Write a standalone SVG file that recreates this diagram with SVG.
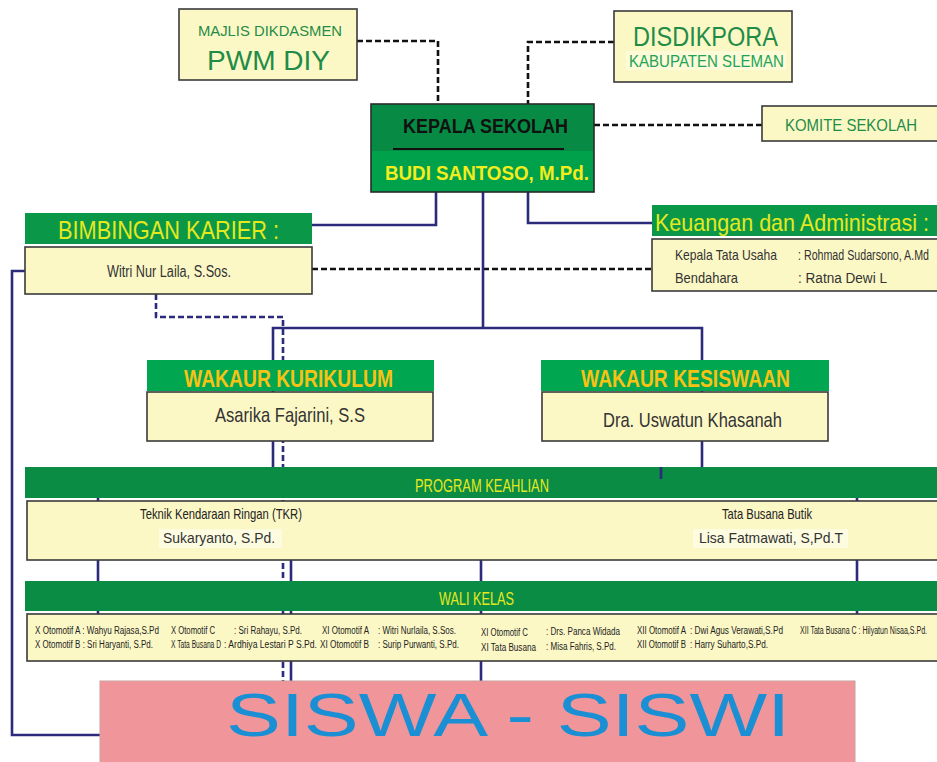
<svg xmlns="http://www.w3.org/2000/svg" width="937" height="762" viewBox="0 0 937 762">
<style>
text{font-family:"Liberation Sans",Arial,sans-serif}
.pale{fill:#fcf8c6;stroke:#3a3a3a;stroke-width:1.6}
.hdr{fill:#0a9848}
.hdr2{fill:#0a8c45}
.hdrw{fill:#00a650}
.ln{fill:none;stroke:#2c2a7a;stroke-width:2.6}
.dsh{fill:none;stroke:#111;stroke-width:2.6;stroke-dasharray:6 3}
.dshb{fill:none;stroke:#2c2a7a;stroke-width:2.6;stroke-dasharray:6 3}
.g{fill:#1f8c47}
.y{fill:#e6e81e}
.dk{fill:#333}
.wk{fill:#222;font-size:10px}
</style>
<rect width="937" height="762" fill="#fff"/>
<g id="connectors">
<polyline class="dsh" points="357,41 438,41 438,104"/>
<polyline class="dsh" points="614,42 528,42 528,104"/>
<line class="dsh" x1="594" y1="125" x2="762" y2="125"/>
<line class="dsh" x1="312" y1="269" x2="652" y2="269"/>
<polyline class="ln" points="436,192 436,225 312,225"/>
<polyline class="ln" points="528,192 528,223 652,223"/>
<line class="ln" x1="483" y1="192" x2="483" y2="328"/>
<polyline class="ln" points="273,467 273,328 702,328 702,467"/>
<polyline class="ln" points="25,271 12,271 12,735 100,735"/>
<polyline class="dshb" points="156,294 156,317 283,317 283,681"/>
<line class="ln" x1="98" y1="467" x2="98" y2="614"/>
<line class="ln" x1="291" y1="560" x2="291" y2="681"/>
<line class="ln" x1="481" y1="560" x2="481" y2="681"/>
<line class="ln" x1="857" y1="498" x2="857" y2="614"/>
</g>
<g id="majlis">
<rect class="pale" x="179" y="9" width="178" height="71"/>
<text class="g" x="198" y="36" font-size="15" textLength="144" lengthAdjust="spacingAndGlyphs">MAJLIS DIKDASMEN</text>
<text class="g" x="207" y="70" font-size="28" textLength="123" lengthAdjust="spacingAndGlyphs">PWM DIY</text>
</g>
<g id="disdikpora">
<rect class="pale" x="614" y="11" width="178" height="71"/>
<rect x="626" y="51" width="160" height="19" fill="#fdfbd8"/>
<text class="g" x="633" y="46" font-size="27" textLength="145" lengthAdjust="spacingAndGlyphs">DISDIKPORA</text>
<text fill="#21a457" x="629" y="67" font-size="17" textLength="155" lengthAdjust="spacingAndGlyphs">KABUPATEN SLEMAN</text>
</g>
<g id="komite">
<rect class="pale" x="762" y="106" width="180" height="35"/>
<text class="g" x="785" y="131" font-size="17" textLength="132" lengthAdjust="spacingAndGlyphs">KOMITE SEKOLAH</text>
</g>
<g id="kepala">
<rect x="371" y="104" width="223" height="88" fill="#00a14b" stroke="#2a2a2a" stroke-width="1.6"/>
<rect x="372" y="105" width="221" height="46" fill="#078a43"/>
<line x1="393" y1="149" x2="564" y2="149" stroke="#111" stroke-width="2"/>
<text fill="#111" x="403" y="133" font-size="20" font-weight="bold" textLength="165" lengthAdjust="spacingAndGlyphs">KEPALA SEKOLAH</text>
<text fill="#f4ec1c" x="385" y="180" font-size="20" font-weight="bold" textLength="204" lengthAdjust="spacingAndGlyphs">BUDI SANTOSO, M.Pd.</text>
</g>
<g id="bimbingan">
<rect class="hdr" x="25" y="213" width="287" height="31"/>
<text class="y" x="58" y="239" font-size="25" textLength="221" lengthAdjust="spacingAndGlyphs">BIMBINGAN KARIER :</text>
<rect class="pale" x="25" y="247" width="287" height="47"/>
<text class="dk" x="107" y="277" font-size="16" textLength="124" lengthAdjust="spacingAndGlyphs">Witri Nur Laila, S.Sos.</text>
</g>
<g id="keuangan">
<rect class="hdr" x="652" y="205" width="290" height="31"/>
<text class="y" x="655" y="231" font-size="24" textLength="274" lengthAdjust="spacingAndGlyphs">Keuangan dan Administrasi :</text>
<rect class="pale" x="652" y="239" width="290" height="52"/>
<text class="dk" x="675" y="260" font-size="15" textLength="102" lengthAdjust="spacingAndGlyphs">Kepala Tata Usaha</text>
<text class="dk" x="798" y="260" font-size="14" textLength="131" lengthAdjust="spacingAndGlyphs">: Rohmad Sudarsono, A.Md</text>
<text class="dk" x="675" y="283" font-size="15" textLength="63" lengthAdjust="spacingAndGlyphs">Bendahara</text>
<text class="dk" x="798" y="283" font-size="14" textLength="89" lengthAdjust="spacingAndGlyphs">: Ratna Dewi L</text>
</g>
<g id="wakaur-kurikulum">
<rect class="hdrw" x="147" y="360" width="287" height="31"/>
<text fill="#f8c214" x="184" y="387" font-size="23" font-weight="bold" textLength="209" lengthAdjust="spacingAndGlyphs">WAKAUR KURIKULUM</text>
<rect class="pale" x="147" y="392" width="286" height="49"/>
<text class="dk" x="215" y="422" font-size="21" textLength="150" lengthAdjust="spacingAndGlyphs">Asarika Fajarini, S.S</text>
</g>
<g id="wakaur-kesiswaan">
<rect class="hdrw" x="541" y="360" width="288" height="31"/>
<text fill="#f8c214" x="581" y="387" font-size="23" font-weight="bold" textLength="209" lengthAdjust="spacingAndGlyphs">WAKAUR KESISWAAN</text>
<rect class="pale" x="542" y="392" width="286" height="49"/>
<text class="dk" x="603" y="427" font-size="21" textLength="179" lengthAdjust="spacingAndGlyphs">Dra. Uswatun Khasanah</text>
</g>
<g id="program-keahlian">
<rect class="hdr2" x="25" y="467" width="917" height="31"/>
<line x1="661" y1="467" x2="661" y2="479" stroke="#2c2a7a" stroke-width="2.6"/>
<text class="y" x="415" y="492" font-size="19" textLength="134" lengthAdjust="spacingAndGlyphs">PROGRAM KEAHLIAN</text>
<rect class="pale" x="27" y="501" width="915" height="59"/>
<text fill="#222" x="140" y="519" font-size="14.5" textLength="162" lengthAdjust="spacingAndGlyphs">Teknik Kendaraan Ringan (TKR)</text>
<rect x="159" y="529" width="123" height="19" fill="#fdfbe0"/>
<text class="dk" x="163" y="543" font-size="15" textLength="112" lengthAdjust="spacingAndGlyphs">Sukaryanto, S.Pd.</text>
<text fill="#222" x="722" y="519" font-size="14.5" textLength="90" lengthAdjust="spacingAndGlyphs">Tata Busana Butik</text>
<rect x="693" y="529" width="155" height="19" fill="#fdfbe0"/>
<text class="dk" x="699" y="543" font-size="15" textLength="144" lengthAdjust="spacingAndGlyphs">Lisa Fatmawati, S,Pd.T</text>
</g>
<g id="wali-kelas">
<rect class="hdr2" x="25" y="581" width="917" height="30"/>
<text class="y" x="439" y="605" font-size="19" textLength="75" lengthAdjust="spacingAndGlyphs">WALI KELAS</text>
<rect class="pale" x="27" y="614" width="915" height="47"/>
<text class="wk" x="35" y="634" textLength="124" lengthAdjust="spacingAndGlyphs">X Otomotif A : Wahyu Rajasa,S.Pd</text>
<text class="wk" x="171" y="634" textLength="44" lengthAdjust="spacingAndGlyphs">X Otomotif C</text>
<text class="wk" x="234" y="634" textLength="68" lengthAdjust="spacingAndGlyphs">: Sri Rahayu, S.Pd.</text>
<text class="wk" x="322" y="634" textLength="47" lengthAdjust="spacingAndGlyphs">XI Otomotif A</text>
<text class="wk" x="378" y="634" textLength="78" lengthAdjust="spacingAndGlyphs">: Witri Nurlaila, S.Sos.</text>
<text class="wk" x="481" y="636" textLength="47" lengthAdjust="spacingAndGlyphs">XI Otomotif C</text>
<text class="wk" x="546" y="635" textLength="74" lengthAdjust="spacingAndGlyphs">: Drs. Panca Widada</text>
<text class="wk" x="637" y="634" textLength="49" lengthAdjust="spacingAndGlyphs">XII Otomotif A</text>
<text class="wk" x="690" y="634" textLength="93" lengthAdjust="spacingAndGlyphs">: Dwi Agus Verawati,S.Pd</text>
<text class="wk" x="800" y="634" textLength="127" lengthAdjust="spacingAndGlyphs">XII Tata Busana C : Hilyatun Nisaa,S.Pd.</text>
<text class="wk" x="35" y="648" textLength="118" lengthAdjust="spacingAndGlyphs">X Otomotif B : Sri Haryanti, S.Pd.</text>
<text class="wk" x="171" y="648" textLength="50" lengthAdjust="spacingAndGlyphs">X Tata Busana D</text>
<text class="wk" x="224" y="648" textLength="93" lengthAdjust="spacingAndGlyphs">: Ardhiya Lestari P S.Pd.</text>
<text class="wk" x="320" y="648" textLength="49" lengthAdjust="spacingAndGlyphs">XI Otomotif B</text>
<text class="wk" x="378" y="648" textLength="81" lengthAdjust="spacingAndGlyphs">: Surip Purwanti, S.Pd.</text>
<text class="wk" x="481" y="651" textLength="55" lengthAdjust="spacingAndGlyphs">XI Tata Busana</text>
<text class="wk" x="546" y="650" textLength="70" lengthAdjust="spacingAndGlyphs">: Misa Fahris, S.Pd.</text>
<text class="wk" x="637" y="648" textLength="49" lengthAdjust="spacingAndGlyphs">XII Otomotif B</text>
<text class="wk" x="690" y="648" textLength="78" lengthAdjust="spacingAndGlyphs">: Harry Suharto,S.Pd.</text>
</g>
<g id="siswa">
<rect x="100" y="681" width="755" height="85" fill="#f0969b" stroke="#c9a0a0" stroke-width="1"/>
<text fill="#1b8fd3" x="226" y="736" font-size="62" textLength="564" lengthAdjust="spacingAndGlyphs">SISWA - SISWI</text>
</g>
</svg>
